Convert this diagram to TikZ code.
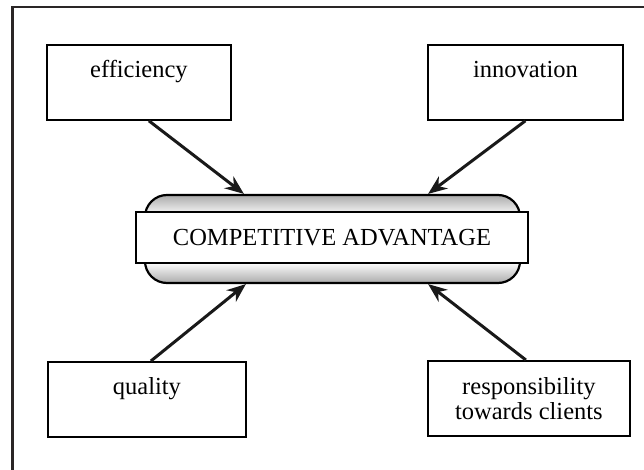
\documentclass[tikz,border=0pt]{standalone}
\usepackage{fontspec}
\setmainfont{Liberation Serif}
\usetikzlibrary{arrows.meta,positioning}
\definecolor{frameGray}{HTML}{2A2626}
\definecolor{coreGray}{HTML}{ABABAB}
\pgfdeclareverticalshading{coreshade}{100bp}{color(0bp)=(coreGray); color(25bp)=(coreGray);
  color(37bp)=(white); color(63bp)=(white); color(75bp)=(coreGray); color(100bp)=(coreGray)}

\tikzset{
  factor/.style={draw, line width=1.8pt, anchor=north west, inner sep=0pt,
    minimum height=75pt, text height=33pt, text depth=42pt,
    font=\fontsize{24.5}{24.5}\selectfont},
  factortwo/.style={draw, line width=1.8pt, anchor=north west, inner sep=0pt,
    minimum height=75pt, align=center, font=\fontsize{24.5}{24.5}\selectfont},
  core/.style={draw, line width=2.2pt, rounded corners=22pt, minimum width=375pt,
    minimum height=88pt, shading=coreshade},
  advbox/.style={draw, line width=1.8pt, fill=white, minimum width=392pt,
    minimum height=51pt, inner sep=0pt, font=\fontsize{24.5}{24.5}\selectfont},
  link/.style={line width=3pt, black!90, -{Stealth[length=19pt, width=15pt]}}
}

\begin{document}
\begin{tikzpicture}[x=1pt, y=-1pt]
\useasboundingbox (0,0) rectangle (644,470);
% ---------- outer frame ----------
\draw[line width=2.8pt, frameGray] (12.5,470) |- (644,7);
% ---------- centre ----------
\node[core] (core) at (332.5,239) {};
\node[advbox] (adv) at (332,237.5) {COMPETITIVE ADVANTAGE};
% ---------- factors ----------
\node[factor, minimum width=184pt] (eff) at (46,44) {efficiency};
\node[factor, minimum width=195pt] (inn) at (427,44) {innovation};
\node[factor, minimum width=198pt] (qua) at (47,361) {quality};
\node[factortwo, minimum width=202pt] (res) at (427,360) {responsibility\\towards clients};
% ---------- arrows ----------
\draw[link] ([xshift=10pt]eff.south) -- ([xshift=100pt]core.north west);
\draw[link] (inn.south) -- ([xshift=-93pt]core.north east);
\draw[link] ([xshift=4pt]qua.north) -- ([xshift=102pt]core.south west);
\draw[link] ([xshift=-3pt]res.north) -- ([xshift=-93pt]core.south east);
\end{tikzpicture}
\end{document}
